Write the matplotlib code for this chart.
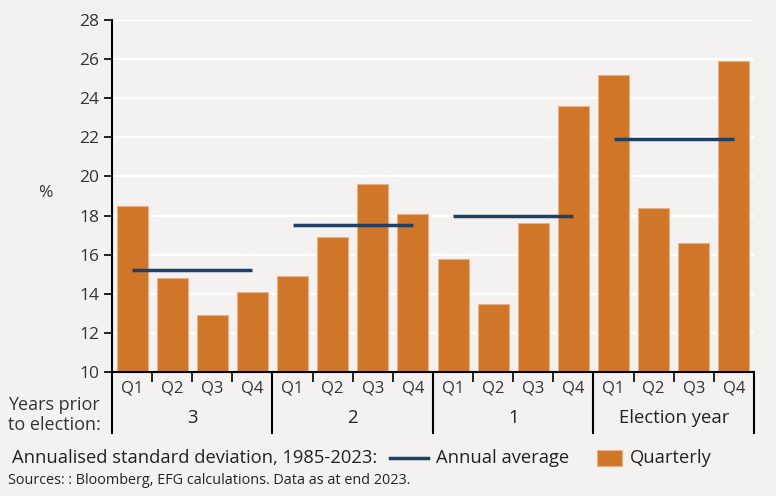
import matplotlib
matplotlib.use("Agg")
import matplotlib.pyplot as plt
from matplotlib.lines import Line2D
from matplotlib.patches import Rectangle
import matplotlib.transforms as mtransforms

plt.rcParams['font.family'] = ['Open Sans', 'DejaVu Sans']

groups = ['3', '2', '1', 'Election year']
quarters = ['Q1', 'Q2', 'Q3', 'Q4']
quarterly = [18.5, 14.8, 12.9, 14.1,
             14.9, 16.9, 19.6, 18.1,
             15.8, 13.5, 17.6, 23.6,
             25.2, 18.4, 16.6, 25.9]
annual_avg = [15.2, 17.5, 18.0, 21.9]

bg = '#f3f2f0'
bar_col = '#d07628'
line_col = '#1f3f66'
txt = '#222222'

W, H = 776, 496
fig = plt.figure(figsize=(7.76, 4.96), dpi=100, facecolor=bg)
ax = fig.add_axes([112 / W, 124 / H, 642 / W, 352 / H])
ax.set_facecolor(bg)

x = list(range(len(quarterly)))
ax.bar(x, quarterly, width=0.77, color=bar_col,
       edgecolor='#e8b088', linewidth=0.8, zorder=2)
for i, v in enumerate(annual_avg):
    ax.plot([i * 4, i * 4 + 3], [v, v], color=line_col, lw=2.5, zorder=3,
            solid_capstyle='butt')

ax.set_ylim(10, 28)
ax.set_xlim(-0.5, 15.5)
ax.set_yticks(range(10, 29, 2))
ax.yaxis.grid(True, color='white', lw=1.6, zorder=0)
ax.set_axisbelow(True)
for s in ['top', 'right']:
    ax.spines[s].set_visible(False)
for s in ['left', 'bottom']:
    ax.spines[s].set_linewidth(1.5)
    ax.spines[s].set_color('black')
ax.tick_params(axis='y', length=6, width=1.2, labelsize=12.5, labelcolor='#333333', pad=3)

ax.set_xticks(x)
ax.set_xticklabels(quarters * 4)
ax.set_xticks([i + 0.5 for i in range(15) if (i + 1) % 4 != 0], minor=True)
ax.tick_params(axis='x', which='major', length=0, labelsize=12, labelcolor='#333333', pad=6)
ax.tick_params(axis='x', which='minor', length=7, width=1.2, direction='out')

trans = mtransforms.blended_transform_factory(ax.transData, ax.transAxes)
for b in [-0.5, 3.5, 7.5, 11.5, 15.5]:
    ax.plot([b, b], [0, -61 / 352], color='black', lw=1.5, transform=trans, clip_on=False)
for i, g in enumerate(groups):
    ax.text(i * 4 + 1.5, -46 / 352, g, transform=trans, ha='center', va='center',
            fontsize=13.3, color=txt)

fig.text(45 / W, 1 - 193 / H, '%', fontsize=12.5, color='#333333', ha='center', va='center')
fig.text(8 / W, 1 - 415 / H, 'Years prior\nto election:', fontsize=13, color='#333333',
         ha='left', va='center', linespacing=1.2)

# legend row
ly = 1 - 458 / H
fig.text(12 / W, ly, 'Annualised standard deviation, 1985-2023:', fontsize=13.2,
         color=txt, ha='left', va='center')
fig.add_artist(Line2D([390 / W, 428 / W], [ly, ly], color=line_col, lw=2.5,
                      transform=fig.transFigure))
fig.text(436 / W, ly, 'Annual average', fontsize=13.2, color=txt, ha='left', va='center')
fig.add_artist(Rectangle((597 / W, ly - 8 / H), 25 / W, 16 / H, facecolor=bar_col,
                         edgecolor='#e8b088', lw=0.8, transform=fig.transFigure))
fig.text(630 / W, ly, 'Quarterly', fontsize=13.2, color=txt, ha='left', va='center')

fig.text(8 / W, 1 - 481 / H, 'Sources: : Bloomberg, EFG calculations. Data as at end 2023.',
         fontsize=10.4, color=txt, ha='left', va='center')

fig.savefig('out.png', dpi=100, facecolor=bg)
